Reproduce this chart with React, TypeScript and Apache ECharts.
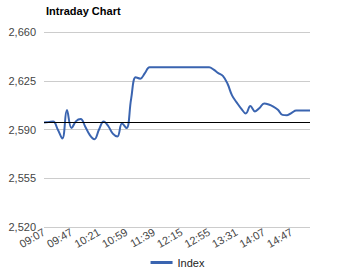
import React, { useEffect, useRef } from "react";
import * as echarts from "echarts";

const times: string[] = [
  "09:07", "09:13", "09:20", "09:27", "09:33", "09:40",
  "09:47", "09:53", "09:58", "10:04", "10:10", "10:15",
  "10:21", "10:27", "10:34", "10:40", "10:46", "10:53",
  "10:59", "11:06", "11:12", "11:19", "11:26", "11:32",
  "11:39", "11:45", "11:51", "11:57", "12:03", "12:09",
  "12:15", "12:22", "12:29", "12:35", "12:42", "12:49",
  "12:55", "13:01", "13:07", "13:13", "13:19", "13:25",
  "13:31", "13:37", "13:43", "13:49", "13:55", "14:01",
  "14:07", "14:14", "14:21", "14:27", "14:34", "14:41",
  "14:47", "14:54", "15:00", "15:07", "15:14",
];

const indexValues: number[] = [
  2595, 2595.3, 2595.7, 2590, 2583.5, 2604,
  2591, 2596, 2597.5, 2592, 2586, 2583,
  2590, 2595.7, 2592.5, 2587, 2585, 2594.3,
  2591, 2612, 2627.5, 2626.5, 2630.5, 2634.7,
  2634.7, 2634.7, 2634.7, 2634.7, 2634.7, 2634.7,
  2634.7, 2634.7, 2634.7, 2634.7, 2634.7, 2634.7,
  2634.7, 2633, 2630.5, 2628.5, 2623, 2614.5,
  2609.5, 2605, 2601.5, 2606.8, 2603, 2605.5,
  2608.7, 2608, 2606.5, 2604.2, 2600.5, 2600.3,
  2602, 2603.7, 2603.7, 2603.7, 2603.7,
];

const previousClose = 2595;
const yMin = 2520;
const yMax = 2660;
const yStep = 35;

export default function App() {
  const ref = useRef<HTMLDivElement>(null);
  useEffect(() => {
    if (!ref.current) return;
    const chart = echarts.init(ref.current, undefined, { renderer: "svg" });
    const font = "'Liberation Sans', Arial, sans-serif";
    chart.setOption({
      animation: false,
      backgroundColor: "#ffffff",
      title: {
        text: "Intraday Chart",
        left: 41,
        top: 0,
        textStyle: { fontFamily: font, fontSize: 11, fontWeight: "bold", color: "#000" },
      },
      legend: {
        data: ["Index"],
        bottom: -6,
        left: "center",
        icon: "rect",
        itemWidth: 22,
        itemHeight: 3,
        itemGap: 5,
        textStyle: { fontFamily: font, fontSize: 11, color: "#222" },
      },
      grid: { left: 44, right: 45, top: 32, bottom: 40 },
      xAxis: {
        type: "category",
        data: times,
        boundaryGap: false,
        axisLine: { show: false },
        axisTick: { show: false },
        axisLabel: {
          interval: 5,
          rotate: 30,
          margin: 4,
          fontFamily: font,
          fontSize: 11,
          color: "#444",
        },
        splitLine: { show: false },
      },
      yAxis: {
        type: "value",
        min: yMin,
        max: yMax,
        interval: yStep,
        axisLine: { show: false },
        axisTick: { show: false },
        axisLabel: {
          fontFamily: font,
          fontSize: 11,
          color: "#444",
          margin: 8,
          formatter: (v: number) => v.toLocaleString("en-US"),
        },
        splitLine: { lineStyle: { color: "#cccccc", width: 1 } },
      },
      series: [
        {
          name: "Index",
          type: "line",
          data: indexValues,
          smooth: 0.4,
          showSymbol: false,
          lineStyle: { color: "#3a64b0", width: 2 },
          itemStyle: { color: "#3a64b0" },
          markLine: {
            silent: true,
            symbol: ["none", "none"],
            label: { show: false },
            lineStyle: { color: "#000", width: 1, type: "solid" },
            data: [{ yAxis: previousClose }],
          },
        },
      ],
    });
    return () => chart.dispose();
  }, []);
  return <div ref={ref} style={{ width: 355, height: 267, position: "fixed", left: 0, top: 0 }} />;
}
